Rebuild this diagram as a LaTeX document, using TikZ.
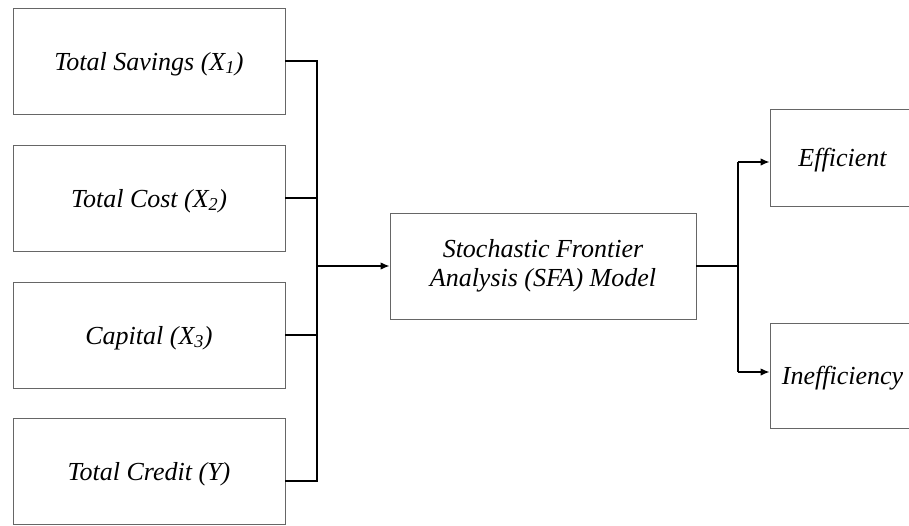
\documentclass[tikz,border=0pt]{standalone}
\usepackage{fontspec}
\setmainfont{Liberation Serif}
\usetikzlibrary{arrows.meta}
\begin{document}
\begin{tikzpicture}[x=1pt,y=-1pt,
  box/.style={draw=black!60, line width=0.9pt, minimum height=106pt, inner sep=0pt,
    font=\fontsize{26}{29}\selectfont\itshape, align=center},
  oneline/.style={text height=20pt, text depth=2pt},
  inbox/.style={box, oneline, minimum width=272pt},
  outbox/.style={box, oneline, minimum width=145pt},
  link/.style={line width=1.4pt},
  arr/.style={link, -{Latex[length=9pt,width=7.5pt]}}]
\useasboundingbox (0,0) rectangle (909,525);
\clip (0,0) rectangle (909,525);
% input boxes
\node[inbox] (b1) at (149,61) {Total Savings (X\textsubscript{1})};
\node[inbox] (b2) at (149,198) {Total Cost (X\textsubscript{2})};
\node[inbox] (b3) at (149,335) {Capital (X\textsubscript{3})};
\node[inbox] (b4) at (149,471) {Total Credit (Y)};
% model
\node[box, minimum width=306pt] (sfa) at (543,266) {Stochastic Frontier\\Analysis (SFA) Model};
% outputs
\node[outbox, minimum height=97pt] (eff) at (842.5,157.5) {Efficient};
\node[outbox, minimum height=105pt] (ineff) at (842.5,375.5) {Inefficiency};
% bus coordinates
\coordinate (bt) at (317,61);
\coordinate (bb) at (317,481);
\coordinate (rt) at (738,162);
\coordinate (rb) at (738,372);
% connectors
\draw[link] (b1.east) -- (bt) -- (bb) -- (b4.east |- bb);
\draw[link] (b2.east) -- (b2.east -| bt);
\draw[link] (b3.east) -- (b3.east -| bt);
\draw[arr] (sfa.west -| bt) -- (sfa.west);
\draw[link] (sfa.east) -- (sfa.east -| rt);
\draw[link] (rt) -- (rb);
\draw[arr] (rt) -- (eff.west |- rt);
\draw[arr] (rb) -- (ineff.west |- rb);
\end{tikzpicture}
\end{document}
